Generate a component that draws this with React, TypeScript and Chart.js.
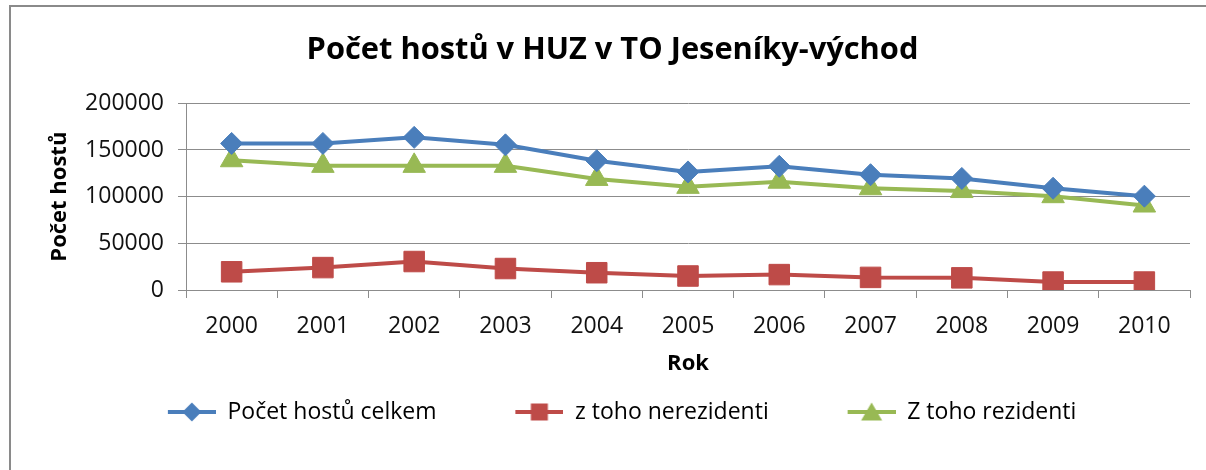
import React, { useEffect, useRef } from "react";
import { Chart, registerables } from "chart.js";

Chart.register(...registerables);

const years = ["2000", "2001", "2002", "2003", "2004", "2005", "2006", "2007", "2008", "2009", "2010"];
const celkem = [157000, 157000, 163500, 155500, 138500, 126500, 132500, 123500, 119500, 109000, 100500];
const nerezidenti = [19500, 24000, 30500, 23000, 18500, 15000, 16500, 13500, 13000, 8500, 8500];
const rezidenti = [139000, 133000, 133000, 133000, 119000, 110500, 116000, 109000, 106000, 100500, 90500];
const seriesNames = ["Počet hostů celkem", "z toho nerezidenti", "Z toho rezidenti"];
const yTicks = [0, 50000, 100000, 150000, 200000];

const BLUE = "#4a7ebb";
const RED = "#be4b48";
const GREEN = "#98b954";
const GRID = "#8c8c8c";
const FONT = "'Open Sans', Lato, sans-serif";

const LEG_FS = 23;
const LINE_LEN = 48;

function legendIcon(color: string, shape: string, boxW: number): HTMLCanvasElement {
  const c = document.createElement("canvas");
  c.width = Math.round(boxW);
  c.height = 28;
  const W = c.width;
  const ctx = c.getContext("2d")!;
  const x0 = W - LINE_LEN;
  const cx = W - LINE_LEN / 2;
  const cy = 14;
  ctx.strokeStyle = color;
  ctx.lineWidth = 4;
  ctx.beginPath();
  ctx.moveTo(x0, cy);
  ctx.lineTo(W, cy);
  ctx.stroke();
  ctx.fillStyle = color;
  ctx.beginPath();
  if (shape === "diamond") {
    ctx.moveTo(cx - 9.5, cy);
    ctx.lineTo(cx, cy - 9.5);
    ctx.lineTo(cx + 9.5, cy);
    ctx.lineTo(cx, cy + 9.5);
  } else if (shape === "square") {
    ctx.rect(cx - 8.5, cy - 8.5, 17, 17);
  } else {
    ctx.moveTo(cx, cy - 9.5);
    ctx.lineTo(cx + 10.5, cy + 8.5);
    ctx.lineTo(cx - 10.5, cy + 8.5);
  }
  ctx.closePath();
  ctx.fill();
  return c;
}

export default function App() {
  const ref = useRef<HTMLCanvasElement | null>(null);

  useEffect(() => {
    if (!ref.current) return;
    const colors = [BLUE, RED, GREEN];
    const shapes = ["diamond", "square", "triangle"];

    const padL = 35;
    const padR = 16;
    const L = padL;
    const R = 1206 - padR;

    // legend geometry from measured text widths
    const mctx = document.createElement("canvas").getContext("2d")!;
    mctx.font = `${LEG_FS}px ${FONT}`;
    const sumT = seriesNames.reduce((a, s) => a + mctx.measureText(s).width, 0);
    const gap = 79;
    const start = 168;
    let pad = L + R - gap - 3 * LINE_LEN - 1.5 * LEG_FS - sumT - 2 * start;
    pad = Math.max(6, Math.min(60, pad));
    const boxW = gap + LINE_LEN - pad;
    const icons = colors.map((c, i) => legendIcon(c, shapes[i], boxW));

    const plotTop = 103.3;
    const plotBottom = 290;
    const legendCenter = 412;
    const legendTop = legendCenter - pad - LEG_FS / 2;
    const xAxisH = legendTop - plotBottom;
    const legendH = LEG_FS + pad + 10;
    const bottomPad = 470 - legendTop - legendH;
    const axisTitleFs = 22;
    const axisLh = axisTitleFs * 1.2;
    const rokPad = legendTop - axisLh / 2 - 364;

    const titleFs = 30.8;
    const titleLh = titleFs * 1.2;
    const titlePadTop = 50 - titleLh / 2;
    const titlePadBottom = plotTop - titlePadTop - titleLh;

    const tickFs = 23;

    const chart = new Chart(ref.current, {
      type: "line",
      data: {
        labels: years,
        datasets: [
          {
            label: seriesNames[0],
            data: celkem,
            borderColor: BLUE,
            backgroundColor: BLUE,
            borderWidth: 4,
            pointStyle: "rectRot",
            pointRadius: 11,
            pointBorderWidth: 1,
            tension: 0,
          },
          {
            label: seriesNames[1],
            data: nerezidenti,
            borderColor: RED,
            backgroundColor: RED,
            borderWidth: 4,
            pointStyle: "rect",
            pointRadius: 14.5,
            pointBorderWidth: 1,
            tension: 0,
          },
          {
            label: seriesNames[2],
            data: rezidenti,
            borderColor: GREEN,
            backgroundColor: GREEN,
            borderWidth: 4,
            pointStyle: "triangle",
            pointRadius: 13,
            pointBorderWidth: 1,
            tension: 0,
          },
        ],
      },
      options: {
        responsive: false,
        animation: false,
        layout: { padding: { top: 0, left: padL, right: padR, bottom: bottomPad } },
        plugins: {
          tooltip: { enabled: false },
          title: {
            display: true,
            text: "Počet hostů v HUZ v TO Jeseníky-východ",
            color: "#000",
            font: { family: FONT, size: titleFs, weight: "bold" },
            padding: { top: titlePadTop, bottom: titlePadBottom },
          },
          legend: {
            position: "bottom",
            align: "center",
            labels: {
              usePointStyle: true,
              pointStyleWidth: boxW,
              padding: pad,
              color: "#000",
              font: { family: FONT, size: LEG_FS },
              generateLabels: () =>
                seriesNames.map((name, i) => ({
                  text: name,
                  fillStyle: colors[i],
                  strokeStyle: colors[i],
                  lineWidth: 0,
                  pointStyle: icons[i],
                  hidden: false,
                  datasetIndex: i,
                  fontColor: "#000",
                })),
            },
          },
        },
        scales: {
          x: {
            offset: true,
            afterFit: (s: any) => {
              s.height = xAxisH;
            },
            grid: {
              offset: true,
              drawOnChartArea: false,
              color: GRID,
              tickLength: 8,
              tickColor: GRID,
            },
            border: { display: true, color: GRID },
            ticks: {
              color: "#111",
              font: { family: FONT, size: tickFs },
              padding: 326 - 298 - (tickFs * 1.2) / 2,
              maxRotation: 0,
            },
            title: {
              display: true,
              text: "Rok",
              color: "#000",
              font: { family: FONT, size: axisTitleFs, weight: "bold" },
              padding: { top: 0, bottom: rokPad },
            },
          },
          y: {
            min: 0,
            max: 200000,
            afterFit: (s: any) => {
              s.width = 186 - padL;
            },
            afterBuildTicks: (s: any) => {
              s.ticks = yTicks.map((v) => ({ value: v }));
            },
            grid: {
              color: GRID,
              tickLength: 8,
              tickColor: GRID,
            },
            border: { display: true, color: GRID },
            ticks: {
              color: "#111",
              font: { family: FONT, size: tickFs },
              padding: 14,
              callback: (v: any) => String(v),
            },
            title: {
              display: true,
              text: "Počet hostů",
              color: "#000",
              font: { family: FONT, size: axisTitleFs, weight: "bold" },
              padding: { top: 60 - padL - axisLh / 2, bottom: 0 },
            },
          },
        },
      },
    });
    return () => chart.destroy();
  }, []);

  return (
    <div
      style={{
        position: "fixed",
        left: 0,
        top: 0,
        width: 1206,
        height: 470,
        overflow: "hidden",
        background: "#fff",
      }}
    >
      <div
        style={{
          position: "absolute",
          left: 9,
          top: 5,
          width: 1400,
          height: 700,
          borderTop: "2px solid #8a8a8a",
          borderLeft: "2px solid #8a8a8a",
        }}
      />
      <canvas ref={ref} width={1206} height={470} style={{ position: "absolute", left: 0, top: 0 }} />
    </div>
  );
}
